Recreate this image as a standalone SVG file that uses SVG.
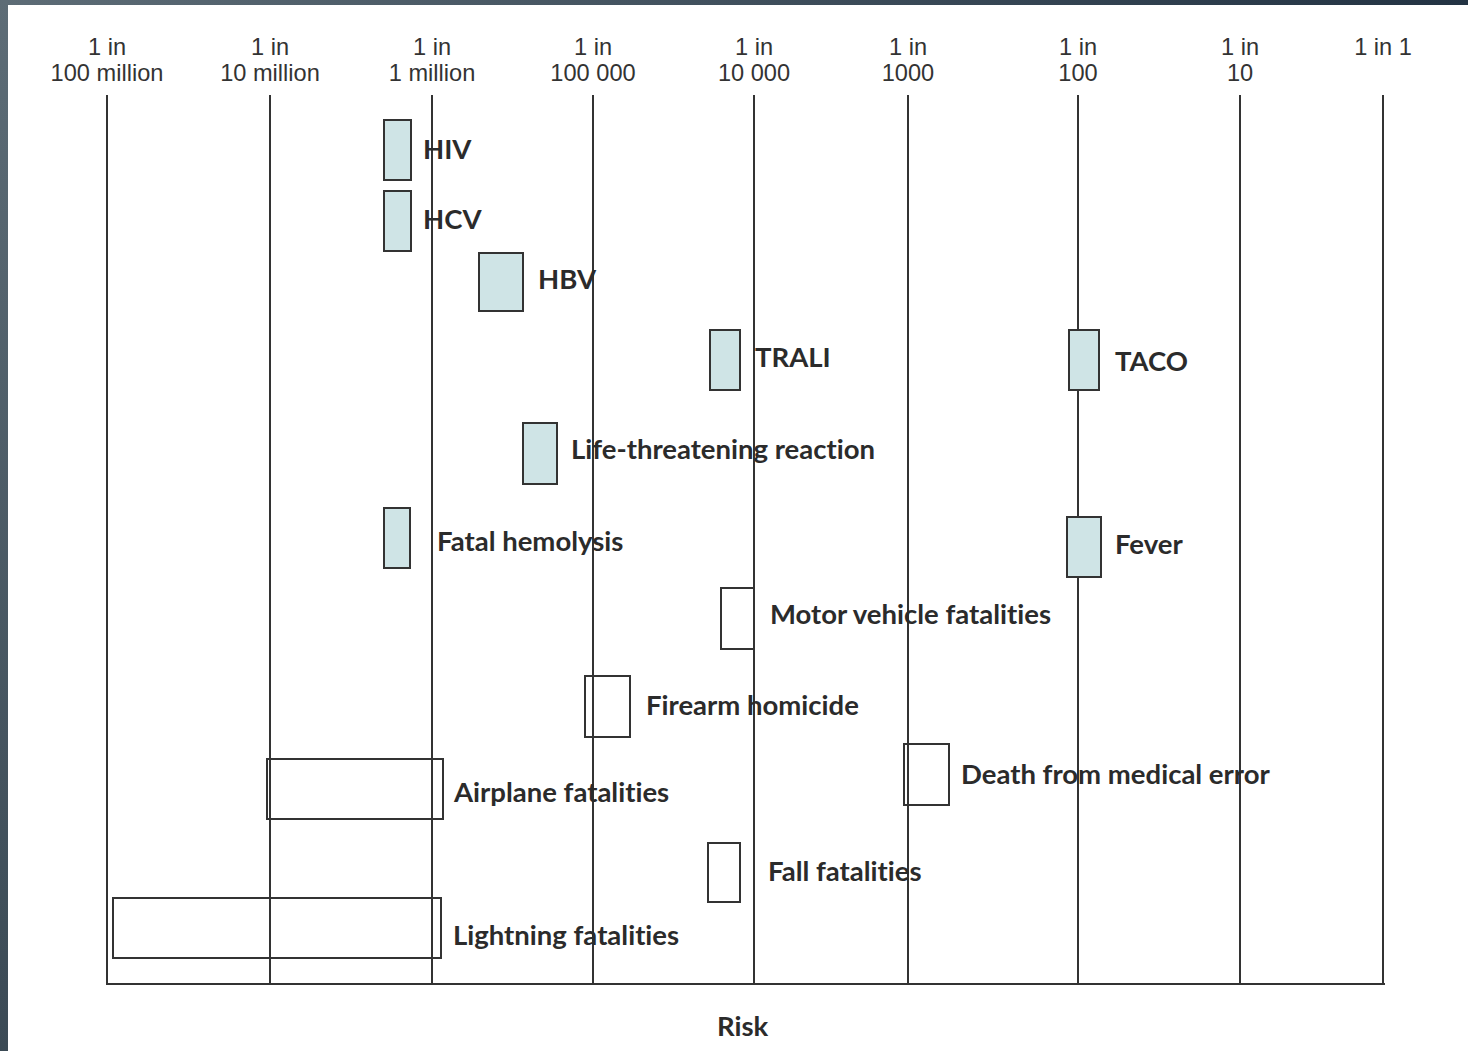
<svg xmlns="http://www.w3.org/2000/svg" width="1468" height="1051" viewBox="0 0 1468 1051">
<defs>
<linearGradient id="gTop" x1="0" y1="0" x2="1" y2="0"><stop offset="0" stop-color="#5d6c76"/><stop offset="1" stop-color="#233343"/></linearGradient>
<linearGradient id="gLeft" x1="0" y1="0" x2="0" y2="1"><stop offset="0" stop-color="#5d6c76"/><stop offset="1" stop-color="#3b4a55"/></linearGradient>
<style>
.grid{stroke:#333;stroke-width:2;fill:none}
.box{stroke:#333;stroke-width:2;fill:#cfe4e6}
.obox{stroke:#333;stroke-width:2;fill:none}
.axis{font-family:"Liberation Sans",Arial,sans-serif;font-size:23.6px;fill:#333;text-anchor:middle}
.lbl{font-family:Lato,"Open Sans",sans-serif;font-weight:bold;font-size:27.5px;fill:#2b2b2b;font-variant-ligatures:none}
</style>
</defs>
<rect x="0" y="0" width="1468" height="1051" fill="#fff"/>
<rect x="0" y="0" width="1468" height="5" fill="url(#gTop)"/>
<rect x="0" y="0" width="8" height="1051" fill="url(#gLeft)"/>
<g id="axis-labels">
<text class="axis" x="107" y="55">1 in</text><text class="axis" x="107" y="81">100 million</text>
<text class="axis" x="270" y="55">1 in</text><text class="axis" x="270" y="81">10 million</text>
<text class="axis" x="432" y="55">1 in</text><text class="axis" x="432" y="81">1 million</text>
<text class="axis" x="593" y="55">1 in</text><text class="axis" x="593" y="81">100 000</text>
<text class="axis" x="754" y="55">1 in</text><text class="axis" x="754" y="81">10 000</text>
<text class="axis" x="908" y="55">1 in</text><text class="axis" x="908" y="81">1000</text>
<text class="axis" x="1078" y="55">1 in</text><text class="axis" x="1078" y="81">100</text>
<text class="axis" x="1240" y="55">1 in</text><text class="axis" x="1240" y="81">10</text>
<text class="axis" x="1383" y="55">1 in 1</text>
</g>
<g id="connectors">
<line class="grid" x1="107" y1="95" x2="107" y2="984"/>
<line class="grid" x1="270" y1="95" x2="270" y2="984"/>
<line class="grid" x1="432" y1="95" x2="432" y2="984"/>
<line class="grid" x1="593" y1="95" x2="593" y2="984"/>
<line class="grid" x1="754" y1="95" x2="754" y2="984"/>
<line class="grid" x1="908" y1="95" x2="908" y2="984"/>
<line class="grid" x1="1078" y1="95" x2="1078" y2="984"/>
<line class="grid" x1="1240" y1="95" x2="1240" y2="984"/>
<line class="grid" x1="1383" y1="95" x2="1383" y2="984"/>
<line class="grid" x1="106" y1="984" x2="1385" y2="984"/>
</g>
<g id="hiv"><rect class="box" x="384" y="120" width="27" height="60"/><text class="lbl" x="423" y="159">HIV</text></g>
<g id="hcv"><rect class="box" x="384" y="191" width="27" height="60"/><text class="lbl" x="423" y="229">HCV</text></g>
<g id="hbv"><rect class="box" x="479" y="253" width="44" height="58"/><text class="lbl" x="538" y="289">HBV</text></g>
<g id="trali"><rect class="box" x="710" y="330" width="30" height="60"/><text class="lbl" x="755" y="367">TRALI</text></g>
<g id="taco"><rect class="box" x="1069" y="330" width="30" height="60"/><text class="lbl" x="1115" y="371">TACO</text></g>
<g id="life"><rect class="box" x="523" y="423" width="34" height="61"/><text class="lbl" x="571" y="459">Life-threatening reaction</text></g>
<g id="fatal"><rect class="box" x="384" y="508" width="26" height="60"/><text class="lbl" x="437" y="551">Fatal hemolysis</text></g>
<g id="fever"><rect class="box" x="1067" y="517" width="34" height="60"/><text class="lbl" x="1115" y="554">Fever</text></g>
<g id="motor"><rect class="obox" x="721" y="588" width="33" height="61"/><text class="lbl" x="770" y="624">Motor vehicle fatalities</text></g>
<g id="firearm"><rect class="obox" x="585" y="676" width="45" height="61"/><text class="lbl" x="646" y="715">Firearm homicide</text></g>
<g id="airplane"><rect class="obox" x="267" y="759" width="176" height="60"/><text class="lbl" x="454" y="802">Airplane fatalities</text></g>
<g id="medical"><rect class="obox" x="904" y="744" width="45" height="61"/><text class="lbl" x="961" y="784">Death from medical error</text></g>
<g id="fall"><rect class="obox" x="708" y="843" width="32" height="59"/><text class="lbl" x="768" y="881">Fall fatalities</text></g>
<g id="lightning"><rect class="obox" x="113" y="898" width="328" height="60"/><text class="lbl" x="453" y="945">Lightning fatalities</text></g>
<text class="lbl" x="717" y="1036">Risk</text>
</svg>
